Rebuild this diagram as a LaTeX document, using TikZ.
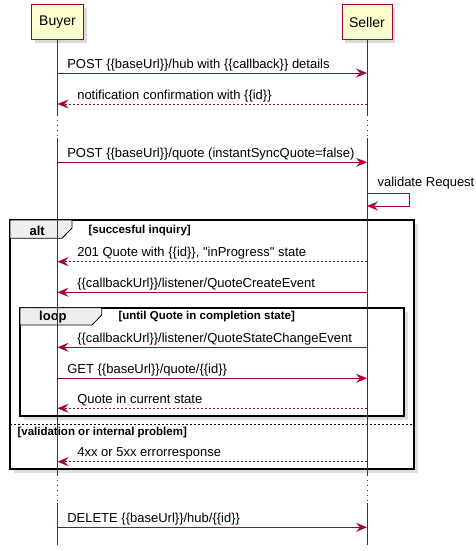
\documentclass[tikz,border=0pt]{standalone}
\usepackage{fontspec}
\setmainfont{Liberation Sans}[Ligatures=TeXOff]
\usetikzlibrary{positioning, arrows.meta, shadows}
\definecolor{umlRed}{HTML}{A80036}
\definecolor{umlYellow}{HTML}{FEFECE}
\definecolor{tabGray}{HTML}{EEEEEE}

\begin{document}
\begin{tikzpicture}[x=1pt, y=-1pt, font=\fontsize{13}{15}\selectfont,
    actor/.style={draw=umlRed, line width=1pt, fill=umlYellow, minimum height=35pt,
      inner sep=0pt, font=\fontsize{14}{16}\selectfont,
      drop shadow={shadow xshift=3pt, shadow yshift=-3pt, opacity=0.3}},
    life/.style={umlRed, line width=0.9pt},
    delay/.style={umlRed, line width=0.9pt, dash pattern=on 1pt off 4pt},
    call/.style={umlRed, line width=0.9pt, -{Stealth[length=11pt, width=9pt, inset=4pt]}},
    reply/.style={call, dash pattern=on 2pt off 2pt},
    lblR/.style={pos=0, anchor=base west, xshift=6pt, yshift=5pt, text=black},
    lblL/.style={pos=1, anchor=base west, xshift=16pt, yshift=5pt, text=black},
    groupbox/.style={draw=black, line width=1.6pt, fill=white,
      drop shadow={shadow xshift=4pt, shadow yshift=-4pt, opacity=0.25}},
    tab/.style={draw=black, line width=0.8pt, fill=tabGray},
    gname/.style={font=\bfseries\fontsize{13}{15}\selectfont, anchor=base west},
    cond/.style={font=\bfseries\fontsize{11.5}{13}\selectfont, anchor=base west}]
  \useasboundingbox (0,0) rectangle (475,551);

  % groups
  \draw[groupbox] (10,220) rectangle (414,469);
  \draw[tab] (10,220) -- (72,220) -- (72,228) -- (62,238.3) -- (10,238.3) -- cycle;
  \node[gname] (altname) at (26,235) {alt};
  \node[cond] (altcond) at (85,233.3) {[succesful inquiry]};
  \draw[groupbox] (20,307.7) rectangle (404,416);
  \draw[tab] (20,307.7) -- (101.7,307.7) -- (101.7,315) -- (92,325) -- (20,325) -- cycle;
  \node[gname] (loopname) at (35.7,320.7) {loop};
  \node[cond] (loopcond) at (115,319.3) {[until Quote in completion state]};
  \draw[black, line width=0.6pt, dash pattern=on 2pt off 2pt] (10,424.3) -- (414,424.3);
  \node[cond] (elsecond) at (14,435.7) {[validation or internal problem]};

  % participants
  \node[actor, minimum width=52pt] (buyer) at (57.5,22.5) {Buyer};
  \node[actor, minimum width=50pt] (seller) at (367,22.5) {Seller};

  \foreach \who/\x in {b/57.5, s/367}{
    \foreach \id/\y in {dA/115, dAe/138, dB/475, dBe/503, end/545,
        hub/73, conf/104, quote/162.3, val/193.3, valend/206, inq/261.7,
        create/292.3, change/347.3, get/378.3, state/408.3, err/461.7, del/527.3}{
      \coordinate (\who-\id) at (\x,\y);
    }
  }

  % lifelines
  \draw[life] (buyer) -- (b-dA);
  \draw[life] (seller) -- (s-dA);
  \foreach \who in {b, s}{
    \draw[delay] (\who-dA) -- (\who-dAe);
    \draw[life] (\who-dAe) -- (\who-dB);
    \draw[delay] (\who-dB) -- (\who-dBe);
    \draw[life] (\who-dBe) -- (\who-end);
  }

  % messages
  \draw[call] (b-hub) -- node[lblR]{POST \{\{baseUrl\}\}/hub with \{\{callback\}\} details} (s-hub);
  \draw[reply] (s-conf) -- node[lblL]{notification confirmation with \{\{id\}\}} (b-conf);
  \draw[call] (b-quote) -- node[lblR]{POST \{\{baseUrl\}\}/quote (instantSyncQuote=false)} (s-quote);
  \draw[call] (s-val) -- ++(42,0) |- (s-valend);
  \node[anchor=base west] (vallbl) at ([xshift=7pt, yshift=6.6pt]s-val) {validate Request};
  \draw[reply] (s-inq) -- node[lblL]{201 Quote with \{\{id\}\}, "inProgress" state} (b-inq);
  \draw[call] (s-create) -- node[lblL]{\{\{callbackUrl\}\}/listener/QuoteCreateEvent} (b-create);
  \draw[call] (s-change) -- node[lblL]{\{\{callbackUrl\}\}/listener/QuoteStateChangeEvent} (b-change);
  \draw[call] (b-get) -- node[lblR]{GET \{\{baseUrl\}\}/quote/\{\{id\}\}} (s-get);
  \draw[reply] (s-state) -- node[lblL]{Quote in current state} (b-state);
  \draw[reply] (s-err) -- node[lblL]{4xx or 5xx errorresponse} (b-err);
  \draw[call] (b-del) -- node[lblR]{DELETE \{\{baseUrl\}\}/hub/\{\{id\}\}} (s-del);
\end{tikzpicture}
\end{document}
